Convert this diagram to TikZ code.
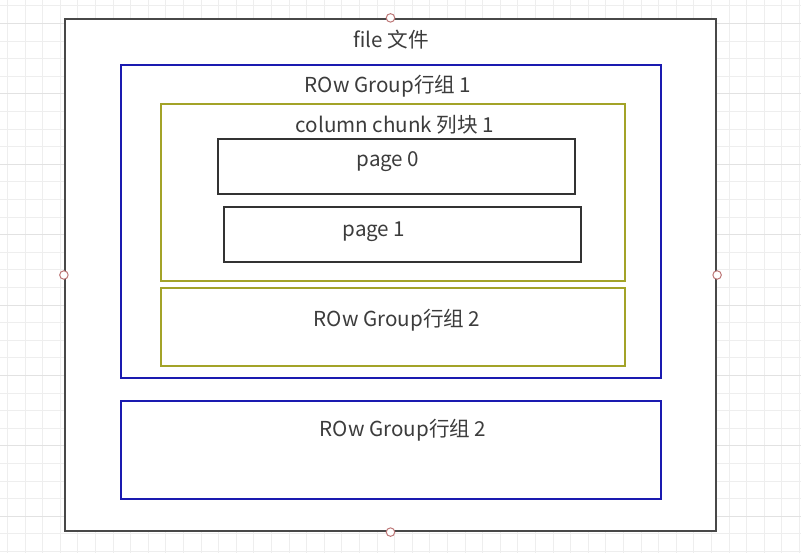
\documentclass[tikz,border=0pt]{standalone}
\usepackage{fontspec}
\setmainfont{Noto Sans CJK SC}
\usetikzlibrary{positioning}
\definecolor{gridminor}{RGB}{238,238,238}
\definecolor{gridmajor}{RGB}{226,226,226}
\definecolor{frameGray}{RGB}{72,72,72}
\definecolor{groupBlue}{RGB}{26,26,176}
\definecolor{chunkOlive}{RGB}{163,163,40}
\definecolor{txtGray}{RGB}{60,60,60}
\definecolor{handleRed}{RGB}{190,120,120}

\begin{document}
\begin{tikzpicture}[
				x=1pt,y=-1pt,
				box/.style={draw,rectangle,inner sep=0pt,fill=white},
				filebox/.style={box,draw=frameGray,line width=2.2pt},
				groupbox/.style={box,draw=groupBlue,line width=2.2pt},
				chunkbox/.style={box,draw=chunkOlive,line width=2.2pt},
				pagebox/.style={box,draw=black!80,line width=1.8pt},
				lbl/.style={font=\fontsize{20.6}{24}\selectfont,text=txtGray,inner sep=0pt},
				handle/.style={circle,draw=handleRed,fill=white,line width=1pt,minimum size=8.5pt,inner sep=0pt}
				]
				
				\useasboundingbox (0,0) rectangle (801,553);
				\fill[white] (0,0) rectangle (801,553);
				
				% Raster
				\foreach \gx in {7.3,24.9,...,801} {\draw[gridminor,line width=0.8pt] (\gx,0) -- (\gx,553);}
				\foreach \gy in {5.8,23.4,...,553} {\draw[gridminor,line width=0.8pt] (0,\gy) -- (801,\gy);}
				\foreach \gy in {23.4,93.8,...,553} {\draw[gridmajor,line width=0.9pt] (0,\gy) -- (801,\gy);}
				
				% Kaesten
				\node[filebox,minimum width=651,minimum height=512] (file) at (390.5,275) {};
				\node[groupbox,minimum width=540,minimum height=313] (group1) at (391,221.5) {};
				\node[chunkbox,minimum width=464,minimum height=177] (chunk1) at (393,192.5) {};
				\node[pagebox,minimum width=357,minimum height=55] (page0) at (396.5,166.5) {};
				\node[pagebox,minimum width=357,minimum height=55] (page1) at (402.5,234.5) {};
				\node[chunkbox,minimum width=464,minimum height=78] (group2in) at (393,327) {};
				\node[groupbox,minimum width=540,minimum height=98] (group2) at (391,450) {};
				
				% Beschriftungen
				\node[lbl] (fileL) at (391,40) {file 文件};
				\node[lbl] (group1L) at (388,86) {ROw Group行组 1};
				\node[lbl] (chunk1L) at (395,125) {column chunk 列块 1};
				\node[lbl] (page0L) at (388,162) {page 0};
				\node[lbl] (page1L) at (374,232) {page 1};
				\node[lbl] (group2inL) at (397,320) {ROw Group行组 2};
				\node[lbl] (group2L) at (403,430) {ROw Group行组 2};
				
				% Griffe
				\node[handle] (hN) at (file.north) {};
				\node[handle] (hS) at (file.south) {};
				\node[handle] (hW) at (file.west) {};
				\node[handle] (hE) at (file.east) {};
				
			\end{tikzpicture}
\end{document}
